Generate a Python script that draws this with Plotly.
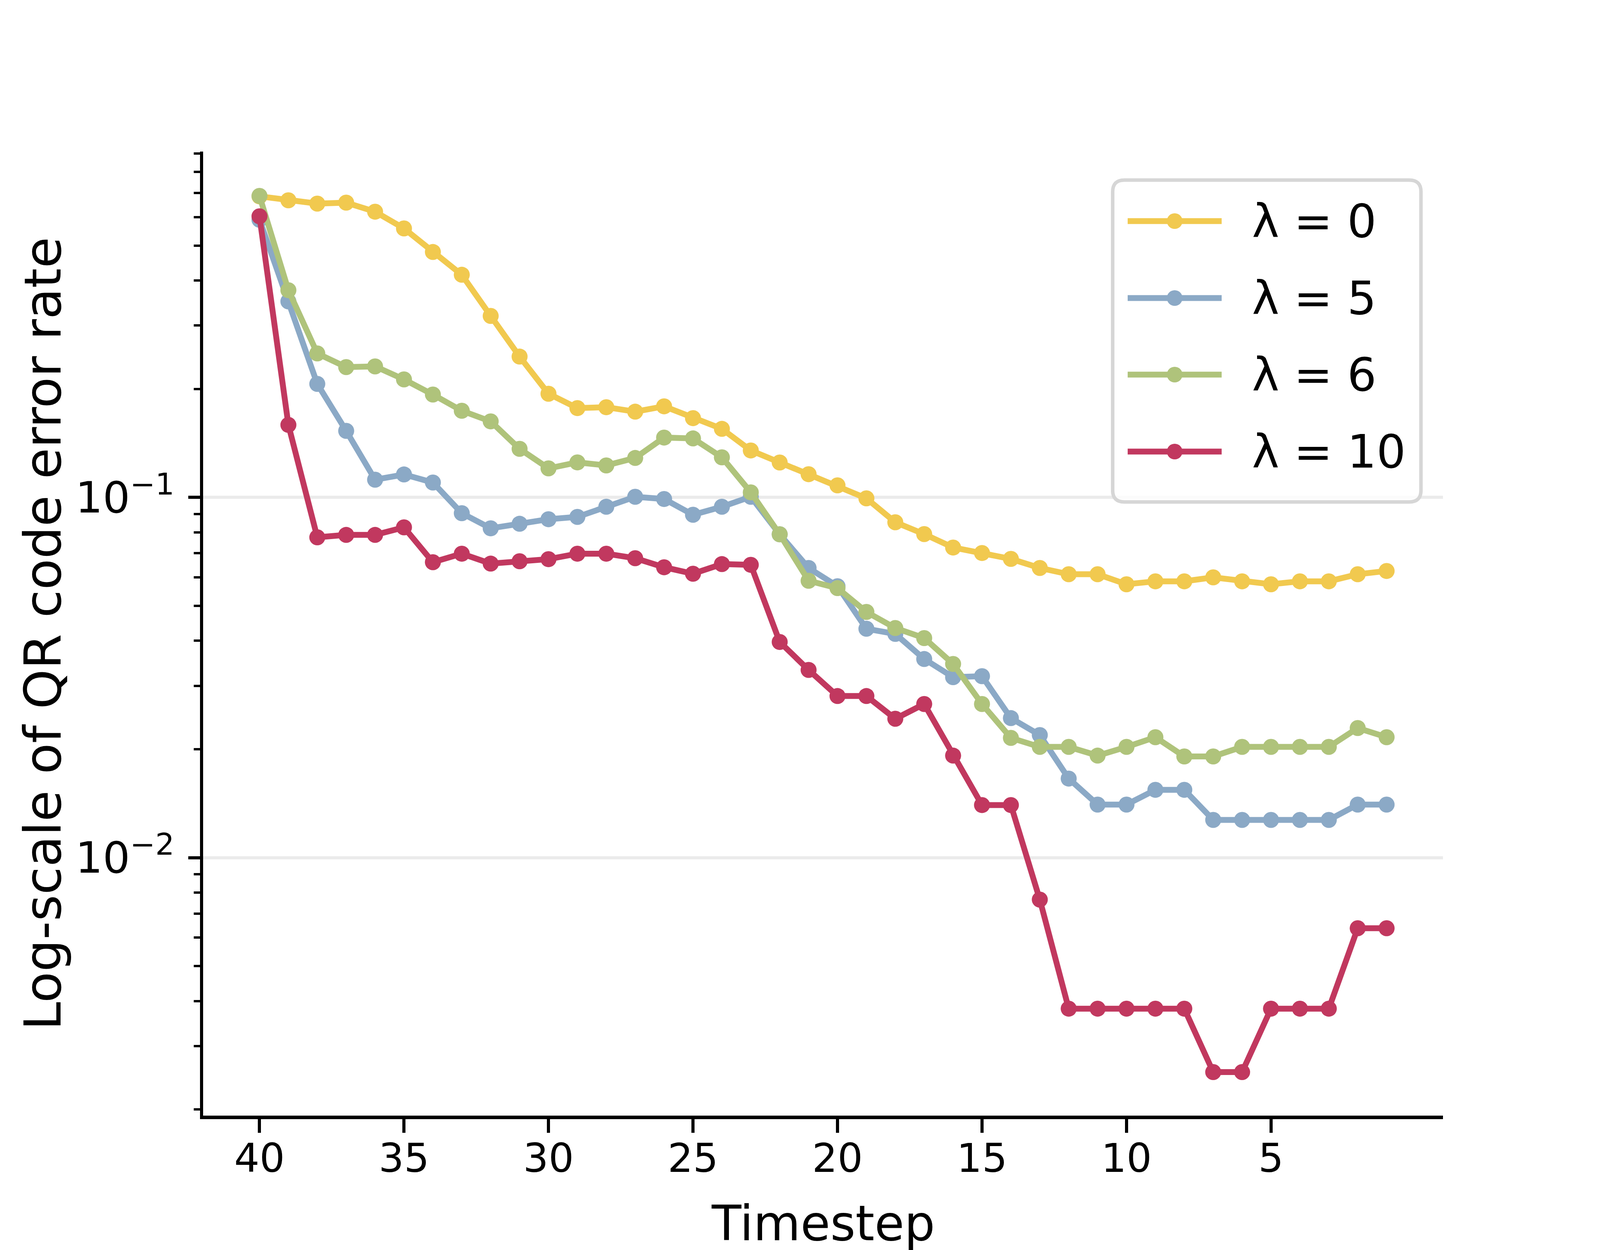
import plotly.graph_objects as go

# ---------------- data ----------------
timesteps = list(range(40, 0, -1))

lam0 = [0.685, 0.668, 0.654, 0.658, 0.621, 0.558, 0.480, 0.415, 0.319, 0.246,
        0.194, 0.177, 0.178, 0.173, 0.179, 0.166, 0.155, 0.135, 0.125, 0.116,
        0.108, 0.0994, 0.0853, 0.0791, 0.0726, 0.0701, 0.0675, 0.0637, 0.0612, 0.0612,
        0.0574, 0.0585, 0.0585, 0.0600, 0.0585, 0.0574, 0.0585, 0.0585, 0.0612, 0.0625]

lam5 = [0.59, 0.350, 0.2066, 0.153, 0.112, 0.1158, 0.110, 0.0904, 0.0821, 0.0845,
        0.0870, 0.0883, 0.0942, 0.1004, 0.0990, 0.0895, 0.0942, 0.1004, 0.079, 0.0637,
        0.0567, 0.0432, 0.0418, 0.0356, 0.0317, 0.0319, 0.0244, 0.0219, 0.01658, 0.01404,
        0.01404, 0.01543, 0.01543, 0.01273, 0.01273, 0.01273, 0.01273, 0.01273, 0.01404, 0.01404]

lam6 = [0.687, 0.376, 0.251, 0.230, 0.231, 0.2126, 0.193, 0.174, 0.1626, 0.1364,
        0.1204, 0.1251, 0.1227, 0.1287, 0.1466, 0.1458, 0.1292, 0.1033, 0.079, 0.0587,
        0.056, 0.0481, 0.0434, 0.0407, 0.0345, 0.0267, 0.0215, 0.0203, 0.0203, 0.0192,
        0.0203, 0.0216, 0.0191, 0.0191, 0.0203, 0.0203, 0.0203, 0.0203, 0.0229, 0.0216]

lam10 = [0.603, 0.159, 0.0775, 0.0787, 0.0787, 0.0826, 0.0661, 0.0698, 0.0655, 0.0665,
         0.0674, 0.0698, 0.0698, 0.0678, 0.0640, 0.0614, 0.0653, 0.0650, 0.0397, 0.0332,
         0.0281, 0.0281, 0.0243, 0.0267, 0.0192, 0.0140, 0.0140, 0.00765, 0.00381, 0.00381,
         0.00381, 0.00381, 0.00381, 0.00254, 0.00254, 0.00381, 0.00381, 0.00381, 0.00637, 0.00637]

series_names = ["λ = 0", "λ = 5", "λ = 6", "λ = 10"]
series_values = [lam0, lam5, lam6, lam10]
series_colors = ["#F1C94F", "#8BA9C6", "#AFC37B", "#C1385F"]

x_tick_vals = [40, 35, 30, 25, 20, 15, 10, 5]
x_title = "Timestep"
y_title = "Log-scale of QR code error rate"

# ---------------- layout constants (designed on the 4800x3200 reference canvas) ----------------
W0, H0 = 4800, 3200
SX = 4096 / 4800         # the browser viewport is 4096 css px wide, 3200 tall
SY = 1.0
W, H = round(W0 * SX), round(H0 * SY)
L0, R0, T0, B0 = 600, 480, 380, 352
PW0, PH0 = W0 - L0 - R0, H0 - T0 - B0
FONT = "DejaVu Sans"


def px2x(px):
    return (px - L0) / PW0


def px2y(py):
    return (H0 - B0 - py) / PH0


fig = go.Figure()
for name, vals, col in zip(series_names, series_values, series_colors):
    fig.add_trace(go.Scatter(
        x=timesteps, y=vals, name=name, mode="lines+markers",
        line=dict(color=col, width=15),
        marker=dict(color=col, size=41),
        showlegend=False,
    ))

# ---------------- custom legend (matplotlib style) ----------------
bx0, bx1, by0, by1 = px2x(3329), px2x(4254), px2y(1277), px2y(453)
rx, ry = 35 / PW0, 35 * SX / PH0
path = (f"M {bx0+rx},{by1} L {bx1-rx},{by1} Q {bx1},{by1} {bx1},{by1-ry} "
        f"L {bx1},{by0+ry} Q {bx1},{by0} {bx1-rx},{by0} L {bx0+rx},{by0} "
        f"Q {bx0},{by0} {bx0},{by0+ry} L {bx0},{by1-ry} Q {bx0},{by1} {bx0+rx},{by1} Z")
shapes = [dict(type="path", path=path, xref="paper", yref="paper",
               fillcolor="rgba(255,255,255,0.8)", line=dict(color="#d6d6d6", width=9),
               layer="above")]
annotations = []
row_y = [558, 755, 951, 1148]
for name, col, ry_px in zip(series_names, series_colors, row_y):
    yy = px2y(ry_px)
    shapes.append(dict(type="line", xref="paper", yref="paper",
                       x0=px2x(3374), x1=px2x(3656), y0=yy, y1=yy,
                       line=dict(color=col, width=15), layer="above"))
    shapes.append(dict(type="circle", xref="paper", yref="paper",
                       xsizemode="pixel", ysizemode="pixel",
                       xanchor=px2x(3515), yanchor=yy, x0=-20, x1=20, y0=-20, y1=20,
                       fillcolor=col, line=dict(width=0), layer="above"))
    annotations.append(dict(text=name, xref="paper", yref="paper", x=px2x(3745), y=yy,
                            xanchor="left", yanchor="middle", showarrow=False,
                            font=dict(family=FONT, size=118, color="black")))

# axis titles
annotations.append(dict(text=x_title, xref="paper", yref="paper", x=0.5, y=px2y(3198),
                        xanchor="center", yanchor="bottom", showarrow=False,
                        font=dict(family=FONT, size=124, color="black")))
annotations.append(dict(text=y_title, xref="paper", yref="paper", x=px2x(120), y=0.5,
                        xanchor="center", yanchor="middle", showarrow=False, textangle=-90,
                        font=dict(family=FONT, size=130, color="black")))

fig.update_layout(
    width=W, height=H,
    margin=dict(l=L0 * SX, r=R0 * SX, t=T0 * SY, b=B0 * SY, pad=0),
    paper_bgcolor="white", plot_bgcolor="white",
    showlegend=False,
    font=dict(family=FONT, size=102, color="black"),
    shapes=shapes, annotations=annotations,
)
fig.update_xaxes(
    range=[41.95, -0.95], tickmode="array", tickvals=x_tick_vals,
    showgrid=False, zeroline=False,
    showline=True, linecolor="black", linewidth=9,
    ticks="outside", ticklen=35, tickwidth=8, tickcolor="black",
    tickfont=dict(family=FONT, size=102, color="black"),
    ticklabelstandoff=-22,
)
fig.update_yaxes(
    type="log", range=[-2.716, -0.040], tickmode="linear", tick0=0, dtick=1,
    exponentformat="power", showexponent="all",
    showgrid=True, gridcolor="#ebebeb", gridwidth=8, zeroline=False,
    showline=True, linecolor="black", linewidth=8,
    ticks="outside", ticklen=30, tickwidth=8, tickcolor="black",
    tickfont=dict(family=FONT, size=88, color="black"),
    ticklabelstandoff=18,
    minor=dict(ticks="outside", ticklen=16, tickwidth=6, tickcolor="black",
               dtick="D1", showgrid=False),
)

fig.write_html("out.html")
